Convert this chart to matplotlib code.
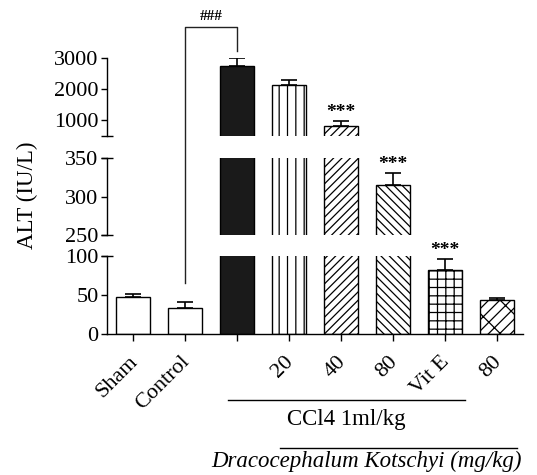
import matplotlib
matplotlib.use('Agg')
import matplotlib.pyplot as plt
from matplotlib.lines import Line2D
from matplotlib.transforms import blended_transform_factory, ScaledTranslation
import numpy as np

plt.rcParams['font.family'] = ['Liberation Serif', 'DejaVu Serif']
plt.rcParams['hatch.linewidth'] = 0.9

# ---------------- data ----------------
groups = ['Sham', 'Control', 'CCl4', 'CCl4+DK20', 'CCl4+DK40', 'CCl4+DK80', 'CCl4+VitE', 'DK80']
tick_labels = ['Sham', 'Control', '', '20', '40', '80', 'Vit E', '80']
alt_mean = [47, 34, 2740, 2125, 810, 315, 82, 43.5]
alt_sem = [5, 7, 255, 165, 180, 15.5, 14, 3]
sig_labels = ['', '', '', '', '***', '***', '***', '']
hatches = ['', '', '', '||', '////', '\\\\\\\\', '++', '//x']
facecolors = ['white', 'white', '#1a1a1a', 'white', 'white', 'white', 'white', 'white']

# broken y-axis segments (low, high, ticks) from top to bottom
seg_top = (500, 3000, [1000, 2000, 3000])
seg_mid = (250, 350, [250, 300, 350])
seg_bot = (0, 100, [0, 50, 100])

ccl4_span = (1.83, 6.38)
dk_span = (2.83, 7.38)
bracket_start = 66  # ALT value where the ### bracket starts above Control

# ---------------- layout ----------------
W, H = 537, 475
fig = plt.figure(figsize=(W / 100, H / 100), dpi=100)


def rect(x0, y_top, x1, y_bot):
    return [x0 / W, 1 - y_bot / H, (x1 - x0) / W, (y_bot - y_top) / H]


ax_top = fig.add_axes(rect(107, 58, 523, 136))
ax_mid = fig.add_axes(rect(107, 158, 523, 235))
ax_bot = fig.add_axes(rect(107, 256, 523, 334.3))
axes = [ax_top, ax_mid, ax_bot]
segs = [seg_top, seg_mid, seg_bot]

x = np.arange(len(groups))
for ax, (lo, hi, ticks) in zip(axes, segs):
    ax.patch.set_alpha(0)
    for i in range(len(groups)):
        ax.bar(x[i], alt_mean[i], width=0.67, color=facecolors[i], edgecolor='black',
               linewidth=1.0, hatch=hatches[i] if hatches[i] else None)
    ax.errorbar(x, alt_mean, yerr=[np.zeros(len(x)), alt_sem], fmt='none', ecolor='black',
                elinewidth=1.2, capsize=6, capthick=1.2)
    ax.set_ylim(lo, hi)
    ax.set_xlim(-0.5, 7.5)
    ax.set_yticks(ticks)
    ax.tick_params(axis='y', direction='out', length=4, width=1, labelsize=16, pad=2)
    for s in ['top', 'right']:
        ax.spines[s].set_visible(False)
    ax.spines['left'].set_linewidth(1)
    if ax is not ax_bot:
        ax.spines['bottom'].set_visible(False)
        ax.set_xticks([])

ax_bot.spines['bottom'].set_linewidth(1)
ax_bot.set_xticks(x)
ax_bot.set_xticklabels(tick_labels, rotation=45, ha='right', rotation_mode='anchor', fontsize=16)
ax_bot.tick_params(axis='x', direction='out', length=5, width=1, pad=3)
shift = ScaledTranslation(-5 / 100, -7 / 100, fig.dpi_scale_trans)
for lab in ax_bot.get_xticklabels():
    lab.set_transform(lab.get_transform() + shift)

# break marks
for ax, ys in [(ax_top, [0]), (ax_mid, [0, 1]), (ax_bot, [1])]:
    for yy in ys:
        ax.plot([0], [yy], marker='_', ms=8, mew=1, color='black',
                transform=ax.transAxes, clip_on=False)

# significance stars
for i, lab in enumerate(sig_labels):
    if not lab:
        continue
    top = alt_mean[i] + alt_sem[i]
    for ax, (lo, hi, _) in zip(axes, segs):
        if lo <= top <= hi:
            ax.annotate(lab, xy=(x[i], top), xytext=(0, 3), textcoords='offset points',
                        ha='center', va='baseline', fontsize=14, fontweight='bold')
            break

# ### bracket between Control and CCl4
inv = fig.transFigure.inverted()
p_start = ax_bot.transData.transform((1, bracket_start))
p_end = ax_top.transData.transform((2, alt_mean[2] + alt_sem[2]))
y_line = H - 27
xs = [p_start[0], p_start[0], p_end[0], p_end[0]]
ys = [p_start[1], y_line, y_line, p_end[1] + 7]
pts = inv.transform(np.column_stack([xs, ys]))
fig.add_artist(Line2D(pts[:, 0], pts[:, 1], color='#222222', lw=1))
fig.text((pts[1, 0] + pts[2, 0]) / 2, 1 - 17 / H, '###', ha='center', va='center',
         fontsize=11, fontweight='bold')

# group lines beneath x axis
blend = blended_transform_factory(ax_bot.transData, fig.transFigure)
fig.add_artist(Line2D(list(ccl4_span), [1 - 400 / H] * 2, transform=blend, color='black', lw=1))
fig.text(sum(ccl4_span) / 2, 1 - 420 / H, 'CCl4 1ml/kg', transform=blend,
         ha='center', va='center', fontsize=16.5)
fig.add_artist(Line2D(list(dk_span), [1 - 448 / H] * 2, transform=blend, color='black', lw=1))
fig.text(4.5, 1 - 461 / H, 'Dracocephalum Kotschyi (mg/kg)', transform=blend,
         ha='center', va='center', fontsize=16.5, style='italic')

fig.text(27 / W, 1 - 195 / H, 'ALT (IU/L)', rotation=90, ha='center', va='center', fontsize=16.5)

fig.savefig('out.png', dpi=100)
